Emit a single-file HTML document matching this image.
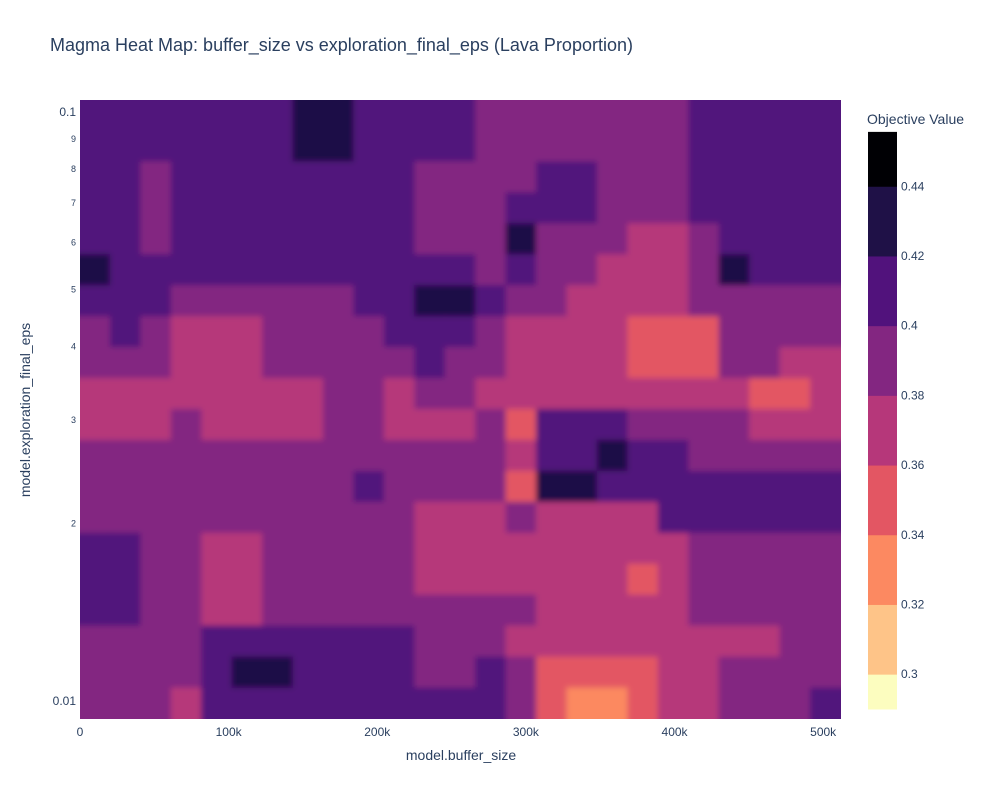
<!DOCTYPE html>
<html><head><meta charset="utf-8"><style>
body{margin:0;background:#fff;}
svg text{font-family:"Liberation Sans",sans-serif;fill:#2a3f5f;}
</style></head><body>
<svg id="chart" width="1000" height="800">
<defs>
<filter id="soft" x="-0.1" y="-0.1" width="1.2" height="1.2">
<feGaussianBlur stdDeviation="3"/>
</filter>
<clipPath id="plotclip"><rect x="80" y="100" width="761" height="619"/></clipPath>
</defs>
<text x="50" y="51" font-size="18">Magma Heat Map: buffer_size vs exploration_final_eps (Lava Proportion)</text>
<g clip-path="url(#plotclip)">
<g id="cells" filter="url(#soft)"></g>
</g>
<g id="xaxis"></g>
<g id="yaxis"></g>
<text x="461" y="760" font-size="14" text-anchor="middle">model.buffer_size</text>
<text x="30" y="410" font-size="14" text-anchor="middle" transform="rotate(-90 30 410)">model.exploration_final_eps</text>
<text x="867" y="124" font-size="14">Objective Value</text>
<g id="cbar"></g>
</svg>
<script>
const xDomain = [0, 512000];
const yDomain = [0.00932, 0.1048];
const xTicks = [0, 100000, 200000, 300000, 400000, 500000];
const xTickLabels = ["0", "100k", "200k", "300k", "400k", "500k"];
const yMajorTicks = [0.01, 0.1];
const yMajorLabels = ["0.01", "0.1"];
const yMinorTicks = [0.02, 0.03, 0.04, 0.05, 0.06, 0.07, 0.08, 0.09];
const yMinorLabels = ["2", "3", "4", "5", "6", "7", "8", "9"];
const levels = [0.29, 0.30, 0.32, 0.34, 0.36, 0.38, 0.40, 0.42, 0.44, 0.4556];
const levelColors = ["#fcfdbf", "#fec488", "#fc8961", "#e35663", "#b6377a", "#832681", "#51127c", "#1f1147", "#000004"];
const cbTicks = [0.3, 0.32, 0.34, 0.36, 0.38, 0.4, 0.42, 0.44];
const cbTickLabels = ["0.3", "0.32", "0.34", "0.36", "0.38", "0.4", "0.42", "0.44"];
const zRow0 = [.41,.41,.41,.41,.41,.41,.41,.43,.43,.41,.41,.41,.41,.39,.39,.39,.39,.39,.39,.39,.41,.41,.41,.41,.41];
const zRow1 = [.41,.41,.41,.41,.41,.41,.41,.43,.43,.41,.41,.41,.41,.39,.39,.39,.39,.39,.39,.39,.41,.41,.41,.41,.41];
const zRow2 = [.41,.41,.39,.41,.41,.41,.41,.41,.41,.41,.41,.39,.39,.39,.39,.41,.41,.39,.39,.39,.41,.41,.41,.41,.41];
const zRow3 = [.41,.41,.39,.41,.41,.41,.41,.41,.41,.41,.41,.39,.39,.39,.41,.41,.41,.39,.39,.39,.41,.41,.41,.41,.41];
const zRow4 = [.41,.41,.39,.41,.41,.41,.41,.41,.41,.41,.41,.39,.39,.39,.43,.39,.39,.39,.37,.37,.39,.41,.41,.41,.41];
const zRow5 = [.43,.41,.41,.41,.41,.41,.41,.41,.41,.41,.41,.41,.41,.39,.41,.39,.39,.37,.37,.37,.39,.43,.41,.41,.41];
const zRow6 = [.41,.41,.41,.39,.39,.39,.39,.39,.39,.41,.41,.43,.43,.41,.39,.39,.37,.37,.37,.37,.39,.39,.39,.39,.39];
const zRow7 = [.39,.41,.39,.37,.37,.37,.39,.39,.39,.39,.41,.41,.41,.39,.37,.37,.37,.37,.35,.35,.35,.39,.39,.39,.39];
const zRow8 = [.39,.39,.39,.37,.37,.37,.39,.39,.39,.39,.39,.41,.39,.39,.37,.37,.37,.37,.35,.35,.35,.39,.39,.37,.37];
const zRow9 = [.37,.37,.37,.37,.37,.37,.37,.37,.39,.39,.37,.39,.39,.37,.37,.37,.37,.37,.37,.37,.37,.37,.35,.35,.37];
const zRow10 = [.37,.37,.37,.39,.37,.37,.37,.37,.39,.39,.37,.37,.37,.39,.35,.41,.41,.41,.39,.39,.39,.39,.37,.37,.37];
const zRow11 = [.39,.39,.39,.39,.39,.39,.39,.39,.39,.39,.39,.39,.39,.39,.37,.41,.41,.43,.41,.41,.39,.39,.39,.39,.39];
const zRow12 = [.39,.39,.39,.39,.39,.39,.39,.39,.39,.41,.39,.39,.39,.39,.35,.43,.43,.41,.41,.41,.41,.41,.41,.41,.41];
const zRow13 = [.39,.39,.39,.39,.39,.39,.39,.39,.39,.39,.39,.37,.37,.37,.39,.37,.37,.37,.37,.41,.41,.41,.41,.41,.41];
const zRow14 = [.41,.41,.39,.39,.37,.37,.39,.39,.39,.39,.39,.37,.37,.37,.37,.37,.37,.37,.37,.37,.39,.39,.39,.39,.39];
const zRow15 = [.41,.41,.39,.39,.37,.37,.39,.39,.39,.39,.39,.37,.37,.37,.37,.37,.37,.37,.35,.37,.39,.39,.39,.39,.39];
const zRow16 = [.41,.41,.39,.39,.37,.37,.39,.39,.39,.39,.39,.39,.39,.39,.39,.37,.37,.37,.37,.37,.39,.39,.39,.39,.39];
const zRow17 = [.39,.39,.39,.39,.41,.41,.41,.41,.41,.41,.41,.39,.39,.39,.37,.37,.37,.37,.37,.37,.37,.37,.37,.39,.39];
const zRow18 = [.39,.39,.39,.39,.41,.43,.43,.41,.41,.41,.41,.39,.39,.41,.39,.35,.35,.35,.35,.37,.37,.39,.39,.39,.39];
const zRow19 = [.39,.39,.39,.37,.41,.41,.41,.41,.41,.41,.41,.41,.41,.41,.39,.35,.33,.33,.35,.37,.37,.39,.39,.39,.41];
const zRows = [zRow0,zRow1,zRow2,zRow3,zRow4,zRow5,zRow6,zRow7,zRow8,zRow9,zRow10,zRow11,zRow12,zRow13,zRow14,zRow15,zRow16,zRow17,zRow18,zRow19];

const NS = "http://www.w3.org/2000/svg";
const PX0 = 80, PX1 = 841, PY0 = 100, PY1 = 719;
function xScale(v){ return PX0 + (v - xDomain[0]) / (xDomain[1] - xDomain[0]) * (PX1 - PX0); }
function yScale(v){ const l0 = Math.log10(yDomain[0]), l1 = Math.log10(yDomain[1]); return PY1 - (Math.log10(v) - l0) / (l1 - l0) * (PY1 - PY0); }
function colorFor(v){
  for (let i = 0; i < levelColors.length; i++) { if (v < levels[i + 1]) return levelColors[i]; }
  return levelColors[levelColors.length - 1];
}
function mk(tag, attrs, parent){ const e = document.createElementNS(NS, tag); for (const k in attrs) e.setAttribute(k, attrs[k]); parent.appendChild(e); return e; }

const cells = document.getElementById("cells");
const nR = zRows.length, nC = zRows[0].length;
const lx0 = xDomain[0], lx1 = xDomain[1];
const ly0 = Math.log10(yDomain[0]), ly1 = Math.log10(yDomain[1]);
const PAD = 15;
for (let r = 0; r < nR; r++) {
  const yTopV = Math.pow(10, ly1 - (ly1 - ly0) * r / nR);
  const yBotV = Math.pow(10, ly1 - (ly1 - ly0) * (r + 1) / nR);
  for (let c = 0; c < nC; c++) {
    let xa = xScale(lx0 + (lx1 - lx0) * c / nC), xb = xScale(lx0 + (lx1 - lx0) * (c + 1) / nC);
    let ya = yScale(yTopV), yb = yScale(yBotV);
    if (c === 0) xa -= PAD;
    if (c === nC - 1) xb += PAD;
    if (r === 0) ya -= PAD;
    if (r === nR - 1) yb += PAD;
    const rc = mk("rect", {x: xa - 0.5, y: ya - 0.5, width: xb - xa + 1, height: yb - ya + 1, fill: colorFor(zRows[r][c])}, cells);
    
    
  }
}

const xg = document.getElementById("xaxis");
xTicks.forEach((t, i) => {
  const tx = mk("text", {x: xScale(t), y: 736, "font-size": 12, "text-anchor": "middle"}, xg);
  tx.textContent = xTickLabels[i];
  
  
});
const yg = document.getElementById("yaxis");
yMajorTicks.forEach((t, i) => {
  const tx = mk("text", {x: 76, y: yScale(t) + 4, "font-size": 12, "text-anchor": "end"}, yg);
  tx.textContent = yMajorLabels[i];
  
  
});
yMinorTicks.forEach((t, i) => {
  const tx = mk("text", {x: 76, y: yScale(t) + 3, "font-size": 9, "text-anchor": "end"}, yg);
  tx.textContent = yMinorLabels[i];
  
  
});

const cb = document.getElementById("cbar");
const CB0 = 709, CBPX = 69.7 / 0.02;
function cbY(v){ return CB0 - (v - levels[0]) * CBPX; }
for (let i = 0; i < levelColors.length; i++) {
  const ya = cbY(levels[i + 1]), yb = cbY(levels[i]);
  const rc = mk("rect", {x: 868, y: ya, width: 29, height: yb - ya + 0.5, fill: levelColors[i]}, cb);
  
  
}
cbTicks.forEach((t, i) => {
  const tx = mk("text", {x: 901, y: cbY(t) + 4, "font-size": 12}, cb);
  tx.textContent = cbTickLabels[i];
  
  
});
</script>
</body></html>
